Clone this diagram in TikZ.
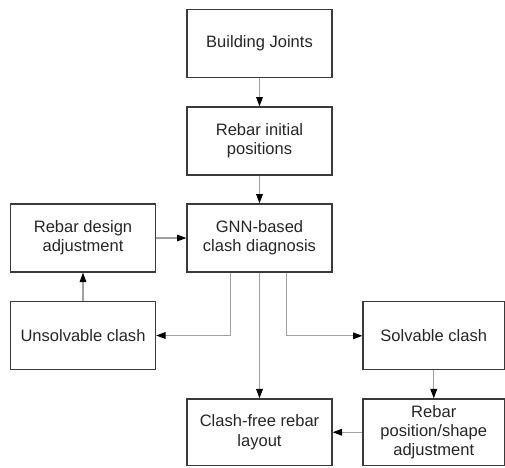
\documentclass[tikz,border=0pt]{standalone}
\usepackage{fontspec}
\setmainfont{Liberation Sans}
\usetikzlibrary{arrows.meta}
\definecolor{boxline}{HTML}{3A3A3A}
\definecolor{conn}{HTML}{A0A0A0}
\definecolor{txt}{HTML}{262626}
\tikzset{
  stepbox/.style={draw=boxline, line width=1pt, fill=white, rectangle, align=center,
    text=txt, inner sep=2pt, font=\fontsize{12.4pt}{14.5pt}\selectfont,
    minimum width=108.75pt, minimum height=51pt},
  sidebox/.style={stepbox, minimum width=106.1pt},
  arr/.style={draw=conn, line width=0.8pt,
    -{Triangle[length=7pt,width=5pt,fill=black,color=black]}}
}
\begin{document}
\begin{tikzpicture}[x=0.75pt,y=-0.75pt]
\useasboundingbox (0,0) rectangle (505,467);
\clip (0,0) rectangle (505,467);
\node[stepbox] (b1) at (259.5,43.5) {Building Joints};
\node[stepbox] (b2) at (259.5,141) {Rebar initial\\positions};
\node[stepbox] (b3) at (259.5,238) {GNN-based\\clash diagnosis};
\node[stepbox] (b4) at (83,238) {Rebar design\\adjustment};
\node[stepbox] (b5) at (83,335.5) {Unsolvable clash};
\node[sidebox] (b6) at (433.75,335.8) {Solvable clash};
\node[stepbox, minimum height=49.9pt] (b7) at (259.5,432.25) {Clash-free rebar\\layout};
\node[sidebox, minimum height=49.9pt] (b8) at (433.75,432.25) {Rebar\\position/shape\\adjustment};
\coordinate (cl) at (230.7,0);
\coordinate (cr) at (286.7,0);
\draw[arr] (b1) -- (b2);
\draw[arr] (b2) -- (b3);
\draw[arr] (b4) -- (b3);
\draw[arr] (b5) -- (b4);
\draw[arr] (cl |- b3.south) |- (b5.east);
\draw[arr] (cr |- b3.south) |- (b6.west);
\draw[arr] (b3) -- (b7);
\draw[arr] (b6) -- (b8);
\draw[arr] (b8) -- (b7);
\end{tikzpicture}
\end{document}
